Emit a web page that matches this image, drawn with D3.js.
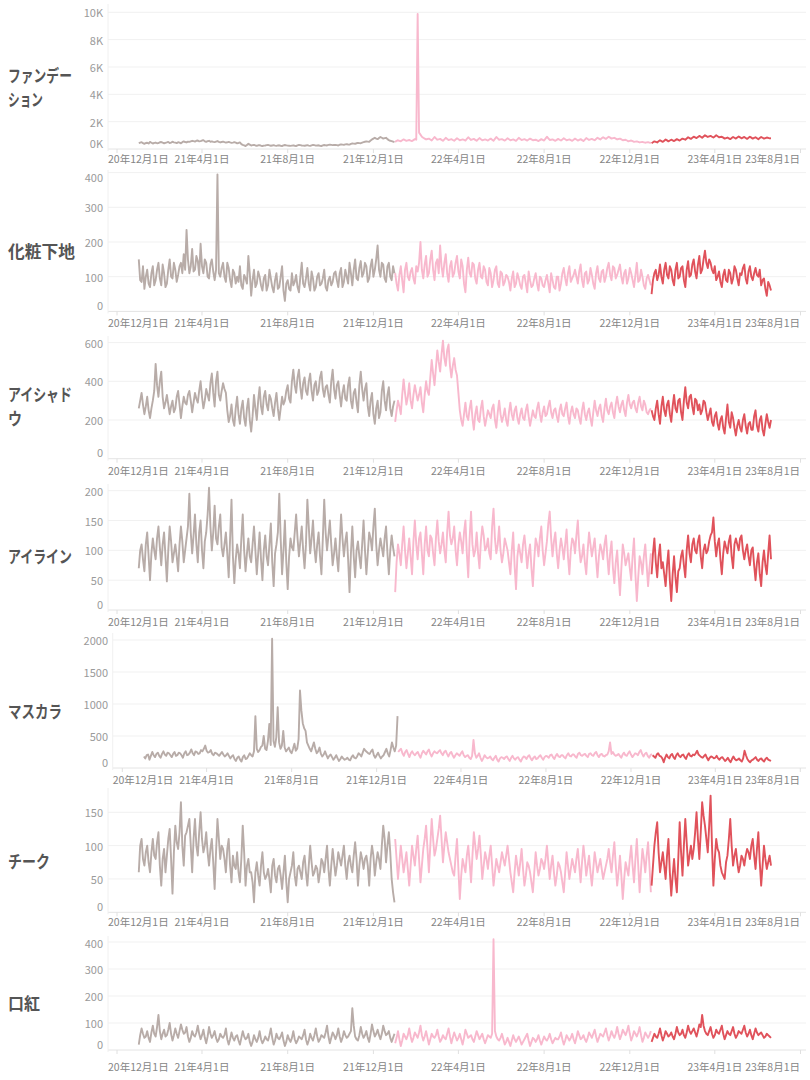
<!DOCTYPE html>
<html><head><meta charset="utf-8">
<script src="https://cdn.jsdelivr.net/npm/d3@7"></script>
<style>body{margin:0;background:#fff}svg{display:block}</style>
</head><body>
<svg id="chart" width="810" height="1080"></svg>
<script>
// ---------- data ----------
const categories = ["ファンデーション","化粧下地","アイシャドウ","アイライン","マスカラ","チーク","口紅"];
const categoryLines = [["ファンデー","ション"],["化粧下地"],["アイシャド","ウ"],["アイライン"],["マスカラ"],["チーク"],["口紅"]];
const xTickDates = ["2020-12-01","2021-04-01","2021-08-01","2021-12-01","2022-04-01","2022-08-01","2022-12-01","2023-04-01","2023-08-01"];
const xTickLabels = ["20年12月1日","21年4月1日","21年8月1日","21年12月1日","22年4月1日","22年8月1日","22年12月1日","23年4月1日","23年8月1日"];
const yearStarts = ["2021-01-01","2022-01-01","2023-01-01"];
const countsA = [92,92,43];   // samples on day 0,4,8,... of each year
const countsB = [91,91,43];   // samples on day 2,6,10,... of each year
const yearColors = ["#b8aca8","#f8b8cd","#e0525b"];
const yTicks = [[0,2000,4000,6000,8000,10000],[0,100,200,300,400],[0,200,400,600],[0,50,100,150,200],[0,500,1000,1500,2000],[0,50,100,150],[0,100,200,300,400]];

// ファンデーション
const foundationA = [
420,500,380,460,520,400,470,430,510,420,480,440,530,460,500,420,560,480,520,600,
540,620,580,650,520,600,560,500,580,480,540,470,520,450,500,420,480,300,220,380,
260,300,240,280,220,260,300,240,280,230,270,220,290,250,230,270,220,300,260,240,
280,230,300,250,270,220,290,260,320,280,300,260,340,300,360,320,400,380,450,420,
500,560,520,700,820,720,880,760,820,650,580,500,
520,640,560,700,600,660,580,720,9880,1050,820,700,760,620,880,680,740,600,820,660,
720,600,780,640,700,620,860,660,740,600,800,640,700,620,760,600,880,680,720,620,
780,640,700,600,820,660,720,620,760,640,680,580,720,620,900,660,700,600,740,620,
780,640,700,600,760,620,720,580,800,660,740,640,820,700,860,740,900,760,820,700,
760,640,680,560,620,520,560,480,520,460,500,440,
420,560,480,640,520,700,560,680,580,720,620,760,680,860,740,900,800,960,820,1000,
880,960,840,1000,860,900,760,840,720,880,760,920,780,880,740,900,760,860,720,880,
760,840,780];
const foundationB = [
470,430,440,400,460,450,420,490,460,450,520,470,490,430,460,500,510,540,560,570,
600,560,620,560,570,530,520,540,520,510,500,490,480,470,460,440,360,260,300,320,
280,260,270,240,250,280,270,260,250,260,240,260,270,240,250,240,260,280,250,260,
250,270,280,260,240,260,270,300,300,290,280,310,320,340,330,370,390,420,430,470,
530,540,620,760,760,800,820,790,720,600,540,
600,590,640,650,630,620,650,680,1200,900,760,730,690,750,780,710,670,710,740,690,
660,690,710,670,660,740,760,700,670,700,720,670,660,690,680,740,780,700,670,700,
710,670,650,710,740,690,670,690,700,660,630,650,670,760,780,680,650,670,680,700,
710,670,650,680,690,670,650,690,730,700,690,730,760,780,800,820,830,790,760,730,
700,660,620,590,570,540,520,500,490,480,470,
490,520,560,580,610,630,620,630,650,670,690,720,770,800,820,850,880,890,910,940,
920,900,920,930,880,830,800,780,800,820,840,850,830,810,820,830,810,790,800,820,
800,810,790];

// 化粧下地
const primerA = [
150,85,65,120,70,130,90,140,75,110,80,150,95,120,105,140,165,235,110,180,
120,145,195,110,140,95,150,90,395,100,140,85,125,70,110,100,130,65,95,160,
45,120,80,100,60,105,75,95,55,110,70,130,30,90,60,75,105,55,140,70,
125,60,95,70,110,80,120,60,100,85,115,70,125,85,100,140,75,150,90,145,
110,130,95,150,120,190,100,135,85,140,90,110,
110,60,130,55,140,90,125,80,115,200,95,160,110,175,90,150,190,100,165,85,
145,110,160,95,130,55,155,100,135,80,140,95,120,75,110,90,130,70,110,85,
100,60,115,80,95,65,105,55,90,75,110,60,95,70,105,55,90,65,100,80,
125,75,130,95,120,80,135,70,115,90,105,65,130,85,120,100,140,90,125,105,
135,80,120,95,110,70,140,90,100,65,105,75,
50,110,90,135,80,140,95,120,75,140,100,130,70,145,105,150,95,160,120,175,
125,140,110,90,115,70,120,85,110,95,120,75,105,135,80,130,90,125,100,75,
95,45,75];
const primerB = [
90,130,100,80,110,75,120,95,135,70,120,100,140,85,130,110,120,150,130,115,
160,105,130,150,100,135,115,120,110,125,100,140,90,120,80,85,75,105,80,110,
90,70,115,75,95,60,120,70,90,65,100,60,80,65,110,85,70,100,80,95,
80,115,60,100,75,95,70,90,75,110,90,110,70,120,80,110,120,95,125,100,
140,85,130,100,150,120,140,95,130,100,130,
80,105,90,120,100,115,95,130,140,120,135,100,150,120,140,110,130,140,110,130,
100,140,115,150,80,120,110,140,95,120,100,130,85,125,70,120,80,115,75,105,
85,95,70,110,75,100,80,115,70,95,80,100,75,90,80,110,70,100,60,110,
95,110,85,105,100,115,90,110,80,125,80,110,95,115,85,125,105,130,95,120,
100,110,80,125,90,105,85,120,75,95,90,
90,120,105,100,120,105,130,90,120,95,125,90,120,100,135,115,135,110,150,140,
150,120,130,100,85,105,90,120,80,130,95,110,125,95,115,100,110,105,120,90,
65,85,60];

// アイシャドウ
const eyeshadowA = [
260,340,230,320,210,300,490,320,450,260,330,230,300,260,350,210,320,280,350,240,
340,290,400,260,360,300,440,270,450,300,390,340,190,280,170,320,180,300,170,310,
140,330,200,370,230,350,250,310,220,340,200,320,300,380,290,460,340,460,310,420,
330,440,300,400,350,450,320,380,290,460,310,400,270,380,300,420,260,360,240,450,
300,390,220,340,180,300,240,400,250,370,220,300,
190,300,230,410,280,390,260,380,300,370,240,400,330,510,380,560,450,610,480,590,
420,520,430,250,170,290,200,300,150,270,190,300,170,250,210,280,160,300,190,260,
170,290,200,270,180,260,200,280,170,250,210,290,190,270,230,300,210,260,190,280,
220,290,180,270,210,250,180,290,200,260,170,300,220,280,190,310,230,290,210,320,
240,300,220,330,260,300,240,320,250,280,230,260,
250,200,300,180,320,220,300,190,330,240,310,200,370,260,330,230,300,280,250,290,
200,260,170,240,150,220,130,280,160,210,120,200,140,230,130,190,150,250,140,220,
120,230,160];
const eyeshadowB = [
300,280,270,250,260,350,380,400,320,290,280,270,240,320,280,270,290,330,300,290,
310,350,320,300,330,390,340,400,330,350,360,250,220,200,260,230,260,210,260,200,
220,260,300,270,320,280,330,260,290,260,260,280,350,310,400,380,420,370,390,350,
400,350,380,330,420,360,370,330,400,360,380,330,340,310,380,300,340,290,380,360,
360,270,300,230,260,210,350,300,330,260,270,
250,270,330,340,320,300,330,340,330,290,330,350,420,440,470,500,540,520,560,480,
480,460,340,200,230,220,260,210,230,200,260,220,210,230,260,200,240,230,220,200,
240,230,250,210,230,210,250,220,210,220,260,230,240,220,270,240,250,220,250,230,
260,220,240,230,260,210,250,230,240,210,240,250,260,220,260,250,270,240,280,270,
280,250,290,280,290,260,290,270,300,240,250,
220,260,230,270,250,280,230,270,260,300,240,300,290,320,270,310,250,230,300,240,
230,190,220,180,200,160,210,190,240,160,170,160,200,170,180,150,220,170,200,150,
180,190,200];

// アイライン
const eyelinerA = [
70,110,65,130,50,120,85,140,75,130,48,140,80,110,65,140,80,120,195,95,
160,80,150,70,130,205,100,175,110,160,90,130,55,185,45,110,70,160,65,120,
80,140,60,130,50,125,75,145,40,110,195,60,150,35,120,100,160,90,140,70,
185,95,150,80,130,60,185,100,150,75,120,65,160,90,130,30,140,55,115,70,
150,60,130,100,170,75,120,90,140,60,125,90,
30,110,75,140,70,120,60,150,85,130,60,140,90,120,75,150,95,130,80,165,
110,140,75,130,95,150,55,165,90,130,70,140,100,120,85,170,95,140,80,120,
100,60,130,35,110,80,125,70,110,40,120,90,140,75,115,165,90,130,70,120,
85,135,60,120,95,150,80,110,60,130,90,120,55,110,85,125,60,115,45,100,
25,110,75,95,50,120,15,90,60,110,40,95,
60,120,55,110,80,40,100,15,90,30,70,100,55,125,80,120,95,125,70,110,
100,125,155,90,120,60,115,95,125,70,120,100,125,85,110,75,105,50,95,40,
100,60,125];
const eyelinerB = [
100,85,110,90,95,100,120,105,110,90,100,115,95,90,110,115,100,140,130,125,
110,130,100,115,160,140,130,120,140,105,110,95,120,90,85,95,120,100,95,90,
110,100,95,85,100,90,110,80,95,130,120,100,80,90,105,130,120,115,100,110,
140,120,105,110,90,120,130,125,110,95,90,110,120,115,85,95,90,100,90,110,
100,95,120,140,110,100,105,120,95,100,105,
80,95,110,100,95,90,115,110,120,95,110,100,125,95,120,115,110,100,130,125,
120,100,110,115,130,95,120,110,100,95,115,125,105,95,140,120,110,100,95,110,
80,100,75,90,95,110,100,95,70,85,110,120,100,95,145,120,115,95,100,105,
110,90,100,115,125,105,90,80,100,110,105,85,90,100,110,90,95,70,80,60,
70,95,85,70,90,60,55,80,90,75,70,
95,80,90,70,60,75,50,60,55,65,90,75,100,95,110,100,115,90,100,95,
115,130,115,110,85,95,105,115,90,110,110,120,100,100,90,100,75,80,60,80,
75,95,85];

// マスカラ
const mascaraA = [
180,200,130,250,170,240,160,260,190,230,170,250,200,230,160,260,210,290,200,250,
230,260,350,240,280,200,230,190,250,180,230,150,200,110,180,100,200,150,230,180,
810,250,330,500,280,690,2020,330,950,300,580,260,320,230,380,300,1210,700,580,350,
260,400,230,320,180,260,150,210,130,200,110,180,130,160,120,200,150,230,180,300,
250,220,290,160,240,150,200,300,180,400,260,810,
250,300,190,280,170,260,200,250,160,270,210,290,180,260,230,280,200,270,180,250,
160,230,190,260,170,200,140,440,160,230,110,200,150,180,120,190,100,170,140,180,
110,190,130,170,100,180,140,200,120,180,150,200,130,190,160,210,140,220,170,200,
150,230,180,210,160,240,190,220,170,230,190,250,170,220,180,210,400,250,190,220,
160,240,190,260,170,230,200,280,180,240,160,220,
200,160,230,180,90,210,150,220,140,230,170,210,140,230,180,200,270,190,160,210,
120,180,150,190,130,170,110,160,90,180,120,150,100,270,140,90,130,170,110,150,
100,160,120];
const mascaraB = [
150,210,190,200,220,190,220,210,240,200,220,190,240,200,230,200,240,230,260,220,
280,300,270,250,220,240,210,220,210,200,190,180,140,160,130,170,140,190,200,260,
300,280,350,300,420,360,420,480,400,350,320,290,260,300,270,450,900,620,400,300,
330,300,260,220,210,200,190,170,160,150,140,150,140,130,170,160,180,210,240,270,
230,260,200,200,190,180,250,230,280,320,350,
280,230,250,220,230,220,230,200,230,240,260,220,230,240,260,230,250,220,230,200,
200,210,230,200,190,160,190,230,190,160,150,170,160,140,160,130,150,160,170,140,
160,150,160,130,150,170,180,150,160,140,180,160,170,180,200,170,190,180,200,170,
200,190,210,180,220,200,210,190,220,200,230,200,210,190,200,260,220,210,200,190,
210,200,230,210,200,220,250,220,220,190,200,
180,210,190,150,160,170,200,170,200,190,200,170,200,190,210,230,210,170,190,160,
160,170,160,150,160,140,130,120,140,140,130,120,150,200,110,120,150,130,140,120,
140,130,110];

// チーク
const cheekA = [
60,110,70,100,60,110,80,120,40,95,85,125,28,130,95,165,70,120,140,60,
140,85,150,90,120,70,110,35,140,80,95,60,110,45,70,90,45,130,40,80,
60,15,75,40,90,50,65,30,80,45,70,35,85,15,60,90,40,70,50,85,
40,100,55,70,45,80,60,100,40,95,55,90,70,100,50,85,60,105,40,90,
65,85,40,100,55,90,65,130,75,120,50,15,
110,50,100,60,90,40,100,70,115,45,95,130,60,140,85,110,145,75,120,90,
70,55,110,20,80,60,100,45,120,80,115,50,90,65,100,40,80,60,90,70,
100,60,30,85,55,95,40,75,60,30,90,55,80,65,100,50,85,40,75,60,
30,90,50,80,60,95,45,100,55,85,40,90,60,80,50,70,95,60,105,40,
85,20,75,55,100,45,110,30,95,60,105,30,
40,100,135,60,90,50,110,25,80,30,135,55,140,70,100,95,150,80,165,130,
90,175,40,110,90,60,50,85,140,70,95,60,85,70,95,80,110,65,120,40,
100,65,85];
const cheekB = [
100,80,90,75,90,85,105,70,80,60,110,80,90,105,120,100,115,130,100,110,
100,120,110,100,90,95,75,90,110,100,80,95,70,85,65,60,80,90,70,60,
45,60,55,70,60,55,50,70,55,65,55,60,45,50,70,55,65,60,75,60,
70,75,60,65,60,75,80,65,70,75,70,80,85,70,75,70,85,80,70,80,
80,70,80,85,75,80,100,110,100,90,30,
80,75,80,75,65,70,85,95,80,70,110,95,100,110,95,125,110,100,105,80,
60,85,65,55,70,85,75,85,100,95,85,70,80,85,70,60,70,75,80,85,
80,45,60,70,75,65,55,70,45,60,70,65,75,80,75,70,60,55,70,45,
60,70,65,70,80,70,75,80,70,60,65,75,70,65,60,80,75,85,70,60,
55,50,65,80,70,80,70,65,80,85,70,
70,120,90,75,70,85,60,55,50,80,90,100,105,85,80,120,110,120,145,110,
130,100,80,95,70,55,75,110,100,85,75,70,80,85,90,100,85,95,75,70,
80,75,70];

// 口紅
const lipstickA = [
20,80,45,70,30,90,50,130,40,75,55,100,35,80,45,95,60,85,30,70,
50,90,40,75,25,85,45,70,30,60,45,80,20,65,35,55,20,70,40,60,
15,55,30,70,25,50,35,80,20,60,40,65,15,55,30,70,25,50,40,75,
20,60,35,80,30,55,45,90,25,65,40,80,30,70,45,60,155,50,35,85,
45,70,30,95,50,75,40,90,55,70,30,60,
25,70,15,60,40,80,30,65,45,90,35,70,20,60,45,75,30,55,40,80,
25,65,35,60,20,75,45,55,30,70,40,60,25,55,45,410,50,35,60,20,
45,15,55,30,50,20,40,60,15,45,30,55,20,50,35,60,25,45,40,65,
20,55,35,60,25,70,40,55,30,65,45,75,30,60,50,80,35,70,45,85,
40,75,55,90,35,70,50,85,30,65,45,70,
30,60,45,80,35,70,50,65,40,85,55,75,45,90,60,80,50,95,130,70,
55,85,45,75,60,90,40,70,55,85,45,70,60,90,50,75,40,80,55,65,
45,60,50];
const lipstickB = [
55,60,50,45,65,60,85,70,60,50,75,60,55,60,70,75,65,50,45,55,
65,60,55,45,50,60,55,45,40,50,55,40,40,45,50,35,45,50,45,30,
30,40,45,40,35,40,55,45,35,45,50,35,30,40,45,40,35,45,55,40,
35,45,55,50,40,50,65,50,45,55,55,50,45,55,50,70,90,40,55,60,
55,45,60,70,60,55,60,70,60,45,45,
45,40,35,50,55,50,45,55,65,55,50,45,40,50,55,50,40,45,60,50,
45,50,45,40,45,60,50,40,50,55,50,40,40,50,60,70,40,45,40,30,
30,35,40,40,35,30,50,35,30,40,40,35,35,40,45,40,35,40,50,40,
35,45,45,40,45,55,45,40,45,55,60,50,45,55,65,55,50,55,60,60,
55,65,70,60,50,60,65,55,45,55,55,
45,50,60,55,50,60,55,50,60,65,60,55,65,70,70,65,70,85,90,60,
70,60,55,65,75,60,55,60,70,60,55,65,75,65,60,55,60,65,60,55,
50,55,45];

const seriesA = [foundationA, primerA, eyeshadowA, eyelinerA, mascaraA, cheekA, lipstickA];
const seriesB = [foundationB, primerB, eyeshadowB, eyelinerB, mascaraB, cheekB, lipstickB];

// ---------- layout ----------
const layout = [
 {y0:149,   yTop:12.3,  paneTop:4,   xl:158,   left:108,   xr:[117,800.5],   lr:103, catY:[75,98],   catW:[64,35]},
 {y0:311.4, yTop:172.6, paneTop:170, xl:322,   left:108,   xr:[117,800.5],   lr:103, catY:[250],     catW:[67]},
 {y0:458.7, yTop:342.6, paneTop:336, xl:470.7, left:108,   xr:[117,800.5],   lr:103, catY:[393,417], catW:[64,14]},
 {y0:610,   yTop:490.7, paneTop:484, xl:621,   left:108,   xr:[117,800.5],   lr:103, catY:[555],     catW:[64]},
 {y0:768,   yTop:640,   paneTop:633, xl:779,   left:112.7, xr:[122.3,800.3], lr:108, catY:[710],     catW:[54]},
 {y0:912.3, yTop:812.3, paneTop:788, xl:921.7, left:108,   xr:[117,800.5],   lr:103, catY:[860],     catW:[42]},
 {y0:1050,  yTop:942,   paneTop:936, xl:1066,  left:108,   xr:[117,800.5],   lr:103, catY:[1003],    catW:[32]}
];
const paneRight = 806;
const FONT = "'Noto Sans CJK JP','Noto Sans',sans-serif";
const parse = d3.timeParse("%Y-%m-%d");
const tickDates = xTickDates.map(parse);
const svg = d3.select("#chart");

function buildSegments(a, b){
  const segs = []; let ia = 0, ib = 0;
  yearStarts.forEach((ys, yi) => {
    const start = parse(ys); const pts = [];
    for (let k = 0; k < countsA[yi]; k++) {
      pts.push({date: d3.timeDay.offset(start, 4*k), value: a[ia++]});
      if (k < countsB[yi]) pts.push({date: d3.timeDay.offset(start, 4*k + 2), value: b[ib++]});
    }
    segs.push({yi, pts});
  });
  return segs;
}

categories.forEach((cat, p) => {
  const L = layout[p];
  const ticks = yTicks[p];
  const topVal = ticks[ticks.length-1];
  const x = d3.scaleTime().domain([tickDates[0], tickDates[tickDates.length-1]]).range(L.xr);
  const y = d3.scaleLinear().domain([0, topVal]).range([L.y0, L.yTop]);
  const g = svg.append("g").attr("class", "panel");

  g.selectAll("line.grid").data(ticks).join("line")
    .attr("x1", L.left).attr("x2", paneRight)
    .attr("y1", d => y(d)).attr("y2", d => y(d))
    .attr("stroke", d => d === 0 ? "#e4e4e4" : "#f1f1f1").attr("stroke-width", 1);
  g.append("line").attr("x1", L.left).attr("x2", L.left)
    .attr("y1", L.paneTop).attr("y2", L.y0 + 2).attr("stroke", "#f0f0f0");
  g.selectAll("line.xt").data(tickDates).join("line")
    .attr("x1", d => x(d)).attr("x2", d => x(d))
    .attr("y1", L.y0).attr("y2", L.y0 + 4).attr("stroke", "#e0e0e0");

  g.selectAll("text.yl").data(ticks).join("text")
    .attr("x", L.lr)
    .attr("y", d => Math.min(Math.max(y(d), L.paneTop + 6.5), L.y0 - 6.5))
    .attr("text-anchor", "end").attr("dominant-baseline", "central")
    .attr("font-family", FONT).attr("font-size", 11).attr("fill", "#9a9a9a")
    .text(d => p === 0 ? (d/1000) + "K" : d3.format("d")(d));

  g.selectAll("text.xl").data(tickDates).join("text")
    .attr("x", (d, i) => i === 0 ? L.left : (i === tickDates.length-1 ? 800 : x(d)))
    .attr("y", L.xl)
    .attr("text-anchor", (d, i) => i === 0 ? "start" : (i === tickDates.length-1 ? "end" : "middle"))
    .attr("dominant-baseline", "central")
    .attr("font-family", FONT).attr("font-size", 10.5).attr("fill", "#858585")
    .text((d, i) => xTickLabels[i]);

  categoryLines[p].forEach((t, li) => {
    const tg = g.append("g").attr("transform", `translate(8,${L.catY[li]})`);
    const txt = tg.append("text").attr("x", 0).attr("y", 0)
      .attr("dominant-baseline", "central")
      .attr("font-family", FONT).attr("font-size", 17).attr("font-weight", 700)
      .attr("fill", "#555555")
      .text(t);
    const w = txt.node().getComputedTextLength();
    const s = Math.min(1, L.catW[li] / w);
    tg.attr("transform", `translate(8,${L.catY[li]}) scale(${s},1)`);
  });

  const line = d3.line().x(d => x(d.date)).y(d => y(d.value));
  const segs = buildSegments(seriesA[p], seriesB[p]);
  g.selectAll("path.s").data(segs).join("path")
    .attr("d", d => line(d.pts))
    .attr("fill", "none")
    .attr("stroke", d => yearColors[d.yi])
    .attr("stroke-width", 1.9)
    .attr("stroke-linejoin", "round");
});
</script>
</body></html>
